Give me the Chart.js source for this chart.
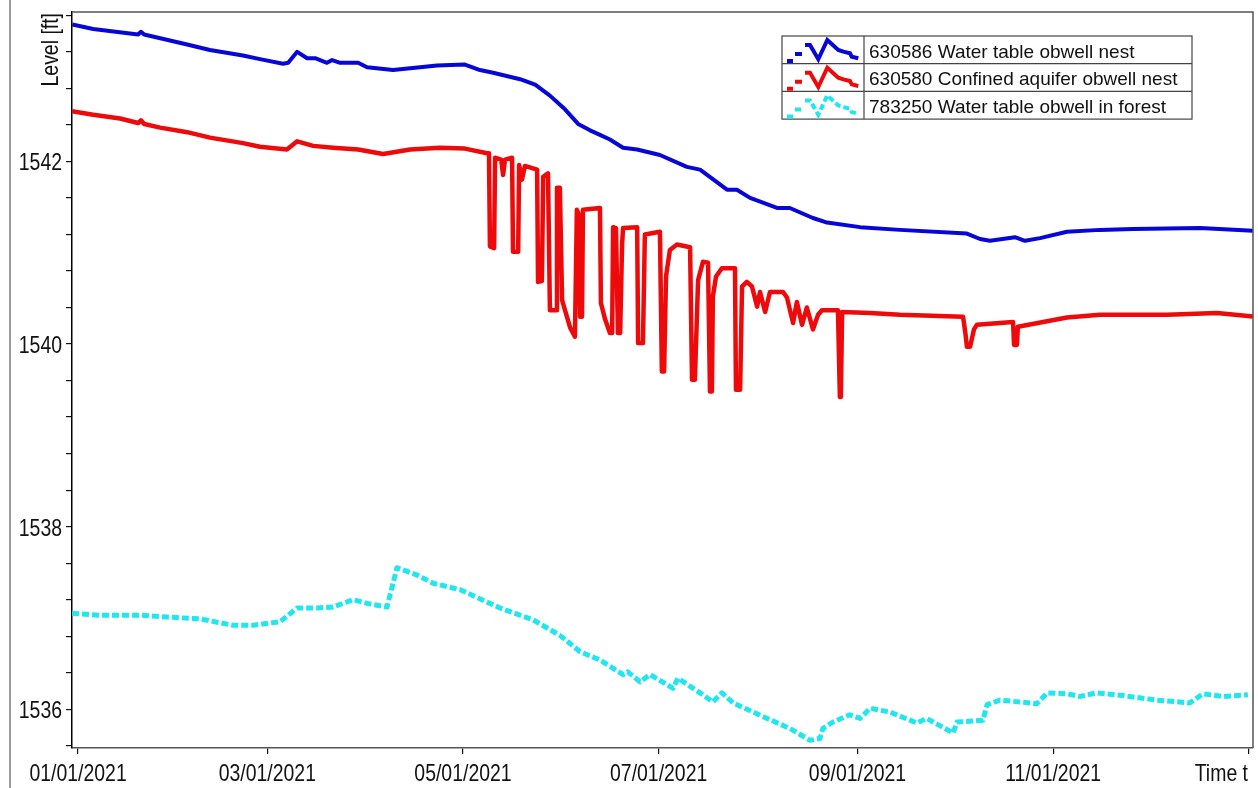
<!DOCTYPE html>
<html>
<head>
<meta charset="utf-8">
<title>Observation well levels 2021</title>
<script src="https://cdn.jsdelivr.net/npm/chart.js@4.4.1/dist/chart.umd.min.js"></script>
<style>
  html, body { margin: 0; padding: 0; background: #ffffff; }
  #wrap { width: 1258px; height: 788px; position: relative; }
  canvas { display: block; }
</style>
</head>
<body>
<div id="wrap"><canvas id="levels" width="1258" height="788"></canvas></div>
<script>
// Time axis: days counted from 01/01/2021
const dateTickDays = [0, 59, 120, 181, 243, 304, 365];
const dateTickLabels = ['01/01/2021', '03/01/2021', '05/01/2021', '07/01/2021', '09/01/2021', '11/01/2021', 'Time t'];

// Level axis ticks [ft]: labelled majors and unlabelled minors
const levelMajorTicks = [1536, 1538, 1540, 1542];
const levelAllTicks = [1535.6, 1536, 1536.4, 1536.8, 1537.2, 1537.6, 1538, 1538.4, 1538.8, 1539.2, 1539.6,
  1540, 1540.4, 1540.8, 1541.2, 1541.6, 1542, 1542.4, 1542.8, 1543.2, 1543.6];
const levelTitle = 'Level [ft]';

const seriesNames = ['630586 Water table obwell nest', '630580 Confined aquifer obwell nest', '783250 Water table obwell in forest'];

// 630586 Water table obwell nest
const blueDays = [-1.8, 4.7, 18.7, 19.6, 20.6, 34.0, 41.1, 51.4, 56.7, 63.9, 65.5, 68.3, 71.4, 73.9, 77.6, 79.2, 81.7,
  87.3, 90.1, 98.2, 106.6, 111.9, 120.6, 125.3, 129.4, 137.8, 142.5, 147.1, 151.8, 155.9, 159.6, 162.7, 165.8,
  169.9, 174.3, 181.4, 189.8, 193.9, 202.3, 205.4, 209.5, 217.9, 221.9, 229.1, 233.5, 243.8, 256.2, 277.1, 281.2,
  284.3, 292.1, 295.2, 299.9, 308.3, 318.6, 328.9, 349.8, 366.3];
const blueLevels = [1543.50, 1543.45, 1543.39, 1543.42, 1543.39, 1543.28, 1543.22, 1543.16, 1543.12, 1543.07, 1543.08,
  1543.20, 1543.13, 1543.13, 1543.08, 1543.11, 1543.08, 1543.08, 1543.03, 1543.00, 1543.03, 1543.05, 1543.06,
  1543.00, 1542.97, 1542.90, 1542.84, 1542.72, 1542.57, 1542.41, 1542.34, 1542.29, 1542.24, 1542.15, 1542.13,
  1542.07, 1541.94, 1541.91, 1541.69, 1541.69, 1541.60, 1541.49, 1541.49, 1541.38, 1541.33, 1541.28, 1541.25,
  1541.21, 1541.15, 1541.13, 1541.17, 1541.13, 1541.16, 1541.23, 1541.25, 1541.26, 1541.27, 1541.24];

// 630580 Confined aquifer obwell nest
const redDays = [-1.9, 4.7, 13.1, 18.7, 19.6, 20.6, 25.6, 34.0, 41.1, 51.4, 56.7, 65.1, 68.3, 73.3, 79.5, 87.3, 95.1,
  103.5, 112.8, 120.6, 127.5, 128.1, 128.4, 129.7, 130.0, 131.9, 132.5, 133.1, 135.3, 135.6, 137.2, 137.5, 138.4,
  139.3, 143.1, 143.4, 144.6, 145.0, 146.5, 147.1, 149.0, 149.3, 150.2, 150.9, 151.8, 153.4, 154.9, 155.5, 156.2,
  156.5, 157.1, 157.4, 162.7, 163.0, 164.3, 165.8, 166.5, 166.8, 167.7, 168.3, 169.0, 169.6, 169.9, 174.3, 174.6,
  176.1, 176.7, 181.4, 182.0, 182.7, 183.3, 184.5, 186.7, 190.8, 191.4, 192.3, 193.3, 194.8, 196.4, 197.0, 197.6,
  197.9, 198.9, 200.7, 204.8, 205.1, 206.4, 207.0, 208.5, 210.1, 211.7, 212.6, 214.2, 215.7, 219.8, 221.0, 222.9,
  224.1, 225.7, 227.2, 229.1, 230.7, 231.9, 236.9, 237.5, 237.8, 238.2, 246.9, 256.2, 275.9, 276.7, 277.1, 278.1,
  279.3, 280.2, 291.5, 291.8, 292.7, 293.0, 308.3, 318.6, 339.5, 355.1, 366.3];
const redLevels = [1542.55, 1542.51, 1542.47, 1542.42, 1542.45, 1542.41, 1542.37, 1542.32, 1542.26, 1542.20, 1542.16,
  1542.13, 1542.22, 1542.17, 1542.15, 1542.13, 1542.08, 1542.13, 1542.15, 1542.14, 1542.09, 1542.09, 1541.07,
  1541.05, 1542.04, 1542.02, 1541.85, 1542.02, 1542.04, 1541.01, 1541.01, 1541.96, 1541.80, 1541.95, 1541.91,
  1540.68, 1540.69, 1541.83, 1541.87, 1540.37, 1540.37, 1541.71, 1541.71, 1540.48, 1540.37, 1540.18, 1540.08,
  1541.47, 1541.41, 1540.30, 1540.30, 1541.47, 1541.49, 1540.45, 1540.27, 1540.12, 1540.12, 1541.28, 1541.27,
  1540.12, 1540.12, 1541.09, 1541.27, 1541.28, 1540.01, 1540.01, 1541.20, 1541.23, 1539.70, 1539.70, 1540.74,
  1541.03, 1541.09, 1541.06, 1539.61, 1539.61, 1540.70, 1540.90, 1540.89, 1539.48, 1539.48, 1540.52, 1540.74,
  1540.83, 1540.83, 1539.50, 1539.50, 1540.63, 1540.68, 1540.63, 1540.41, 1540.57, 1540.35, 1540.57, 1540.57,
  1540.51, 1540.23, 1540.46, 1540.21, 1540.40, 1540.16, 1540.32, 1540.37, 1540.37, 1539.42, 1539.42, 1540.35,
  1540.34, 1540.32, 1540.30, 1540.10, 1539.97, 1539.97, 1540.16, 1540.21, 1540.24, 1539.99, 1539.99, 1540.19,
  1540.29, 1540.32, 1540.32, 1540.34, 1540.30];

// 783250 Water table obwell in forest
const cyanDays = [-1.9, 6.9, 19.3, 27.7, 38.0, 48.3, 54.6, 63.0, 68.3, 74.5, 79.5, 85.7, 90.1, 96.3, 97.9, 99.4, 105.7,
  110.7, 119.1, 131.5, 141.8, 150.2, 156.5, 162.7, 169.9, 171.4, 175.2, 178.3, 185.5, 187.0, 193.9, 197.9, 200.7,
  204.2, 214.8, 221.9, 228.2, 231.3, 232.2, 235.3, 240.6, 243.8, 246.9, 253.1, 261.5, 264.6, 272.8, 274.0, 282.1,
  283.4, 287.4, 293.6, 298.9, 302.1, 308.3, 312.3, 317.6, 325.7, 336.3, 346.6, 350.7, 356.9, 364.7];
const cyanLevels = [1537.05, 1537.03, 1537.03, 1537.01, 1536.99, 1536.92, 1536.92, 1536.96, 1537.11, 1537.11, 1537.12,
  1537.20, 1537.16, 1537.12, 1537.34, 1537.55, 1537.47, 1537.38, 1537.31, 1537.11, 1536.98, 1536.81, 1536.63,
  1536.54, 1536.38, 1536.41, 1536.30, 1536.38, 1536.23, 1536.34, 1536.18, 1536.08, 1536.18, 1536.07, 1535.90,
  1535.79, 1535.66, 1535.68, 1535.79, 1535.86, 1535.94, 1535.90, 1536.01, 1535.97, 1535.85, 1535.90, 1535.74,
  1535.86, 1535.88, 1536.05, 1536.10, 1536.08, 1536.06, 1536.18, 1536.17, 1536.14, 1536.18, 1536.15, 1536.10,
  1536.07, 1536.17, 1536.14, 1536.16];

const BLUE = '#0606d8';
const RED = '#ee0a0a';
const CYAN = '#1fe6ef';
const TEXT = '#111111';
const AXIS_FONT = "24px 'Liberation Sans', Arial, sans-serif";
const AXIS_SQUEEZE = 0.81;          // axis lettering is set tall and narrow
const LEGEND_FONT = "19px 'Liberation Sans', Arial, sans-serif";

const toPoints = (days, levels) => days.map((d, i) => ({ x: d, y: levels[i] }));

function narrowText(ctx, text, x, y, align) {
  ctx.save();
  ctx.translate(x, y);
  ctx.scale(AXIS_SQUEEZE, 1);
  ctx.textAlign = align;
  ctx.fillText(text, 0, 0);
  ctx.restore();
}

// Frame, axis lettering and the boxed legend
const decorations = {
  id: 'decorations',
  beforeDraw(chart) {
    const ctx = chart.ctx;
    ctx.save();
    ctx.fillStyle = '#ffffff';
    ctx.fillRect(0, 0, chart.width, chart.height);
    ctx.restore();
  },
  afterDraw(chart) {
    const ctx = chart.ctx;
    const a = chart.chartArea;
    const xs = chart.scales.x;
    const ys = chart.scales.y;
    ctx.save();

    // window edge
    ctx.strokeStyle = '#9c9c9c';
    ctx.lineWidth = 2;
    ctx.beginPath(); ctx.moveTo(10, 0); ctx.lineTo(10, chart.height); ctx.stroke();

    // top and right frame of the plot
    ctx.strokeStyle = '#555555';
    ctx.lineWidth = 1.5;
    ctx.beginPath();
    ctx.moveTo(a.left, a.top); ctx.lineTo(a.right, a.top); ctx.lineTo(a.right, a.bottom);
    ctx.stroke();

    ctx.font = AXIS_FONT;
    ctx.fillStyle = TEXT;
    ctx.textBaseline = 'alphabetic';

    // time labels under the ticks; the last one sits flush right
    dateTickDays.forEach((d, i) => {
      const px = xs.getPixelForValue(d);
      if (i === dateTickDays.length - 1) narrowText(ctx, dateTickLabels[i], a.right - 5, a.bottom + 33, 'right');
      else narrowText(ctx, dateTickLabels[i], px, a.bottom + 33, 'center');
    });

    // level labels left of the ticks
    levelMajorTicks.forEach((v) => {
      const py = ys.getPixelForValue(v);
      narrowText(ctx, String(v), a.left - 10, py + 9, 'right');
    });

    // y axis title, reading upwards, ending at the top of the plot
    ctx.save();
    ctx.translate(57.5, a.top + 1);
    ctx.rotate(-Math.PI / 2);
    narrowText(ctx, levelTitle, 0, 0, 'right');
    ctx.restore();

    // legend table
    const lx = 782, ly = 36, lw = 410, rowH = 27.7, symW = 82;
    const styles = [
      { color: BLUE, dash: [] },
      { color: RED, dash: [] },
      { color: CYAN, dash: [6, 3] }
    ];
    ctx.fillStyle = '#ffffff';
    ctx.fillRect(lx, ly, lw, rowH * 3);
    ctx.strokeStyle = '#444444';
    ctx.lineWidth = 1.2;
    ctx.strokeRect(lx, ly, lw, rowH * 3);
    ctx.beginPath();
    ctx.moveTo(lx + symW, ly); ctx.lineTo(lx + symW, ly + rowH * 3);
    ctx.moveTo(lx, ly + rowH); ctx.lineTo(lx + lw, ly + rowH);
    ctx.moveTo(lx, ly + rowH * 2); ctx.lineTo(lx + lw, ly + rowH * 2);
    ctx.stroke();

    const zig = [[23, 9], [28, 9], [36.3, 23.3], [45.3, 4], [56.3, 14], [61.3, 15.7], [68, 17.3], [69.7, 20.7], [76.3, 22.3]];
    seriesNames.forEach((name, i) => {
      const top = ly + rowH * i;
      const st = styles[i];
      ctx.strokeStyle = st.color;
      ctx.lineWidth = 4;
      ctx.lineJoin = 'miter';
      ctx.setLineDash(st.dash);
      ctx.beginPath();
      ctx.moveTo(lx + 5, top + 25); ctx.lineTo(lx + 11, top + 25);
      ctx.moveTo(lx + 13, top + 18); ctx.lineTo(lx + 20, top + 18);
      ctx.stroke();
      ctx.beginPath();
      zig.forEach((p, k) => {
        if (k === 0) ctx.moveTo(lx + p[0], top + p[1]); else ctx.lineTo(lx + p[0], top + p[1]);
      });
      ctx.stroke();
      ctx.setLineDash([]);

      ctx.font = LEGEND_FONT;
      ctx.fillStyle = TEXT;
      ctx.textAlign = 'left';
      ctx.textBaseline = 'alphabetic';
      ctx.fillText(name, lx + symW + 5, top + 21.5);
    });

    ctx.restore();
  }
};

new Chart(document.getElementById('levels'), {
  type: 'line',
  data: {
    datasets: [
      { label: seriesNames[0], data: toPoints(blueDays, blueLevels), borderColor: BLUE, borderWidth: 4 },
      { label: seriesNames[1], data: toPoints(redDays, redLevels), borderColor: RED, borderWidth: 4.5 },
      { label: seriesNames[2], data: toPoints(cyanDays, cyanLevels), borderColor: CYAN, borderWidth: 5,
        borderDash: [7, 3], borderCapStyle: 'butt' }
    ]
  },
  options: {
    responsive: false,
    animation: false,
    events: [],
    elements: {
      point: { radius: 0 },
      line: { tension: 0, borderJoinStyle: 'round', fill: false }
    },
    layout: { padding: { top: 12, right: 5, left: 0, bottom: 0 } },
    plugins: {
      legend: { display: false },
      tooltip: { enabled: false },
      title: { display: false }
    },
    scales: {
      x: {
        type: 'linear',
        position: 'bottom',
        min: -1.9,
        max: 366.3,
        grid: { display: true, drawOnChartArea: false, drawTicks: true, tickLength: 6, color: '#111111', lineWidth: 1.2 },
        border: { display: true, color: '#555555', width: 1.5 },
        ticks: { display: false },
        afterBuildTicks: (scale) => { scale.ticks = dateTickDays.map(v => ({ value: v })); },
        afterFit: (scale) => { scale.height = 40; scale.paddingLeft = 0; scale.paddingRight = 0; }
      },
      y: {
        type: 'linear',
        position: 'left',
        min: 1535.576,
        max: 1543.636,
        grid: { display: true, drawOnChartArea: false, drawTicks: true, tickLength: 6, color: '#111111', lineWidth: 1.2 },
        border: { display: true, color: '#000000', width: 1.5 },
        ticks: { display: false },
        afterBuildTicks: (scale) => { scale.ticks = levelAllTicks.map(v => ({ value: v })); },
        afterFit: (scale) => { scale.width = 72; scale.paddingTop = 0; scale.paddingBottom = 0; }
      }
    }
  },
  plugins: [decorations]
});
</script>
</body>
</html>
